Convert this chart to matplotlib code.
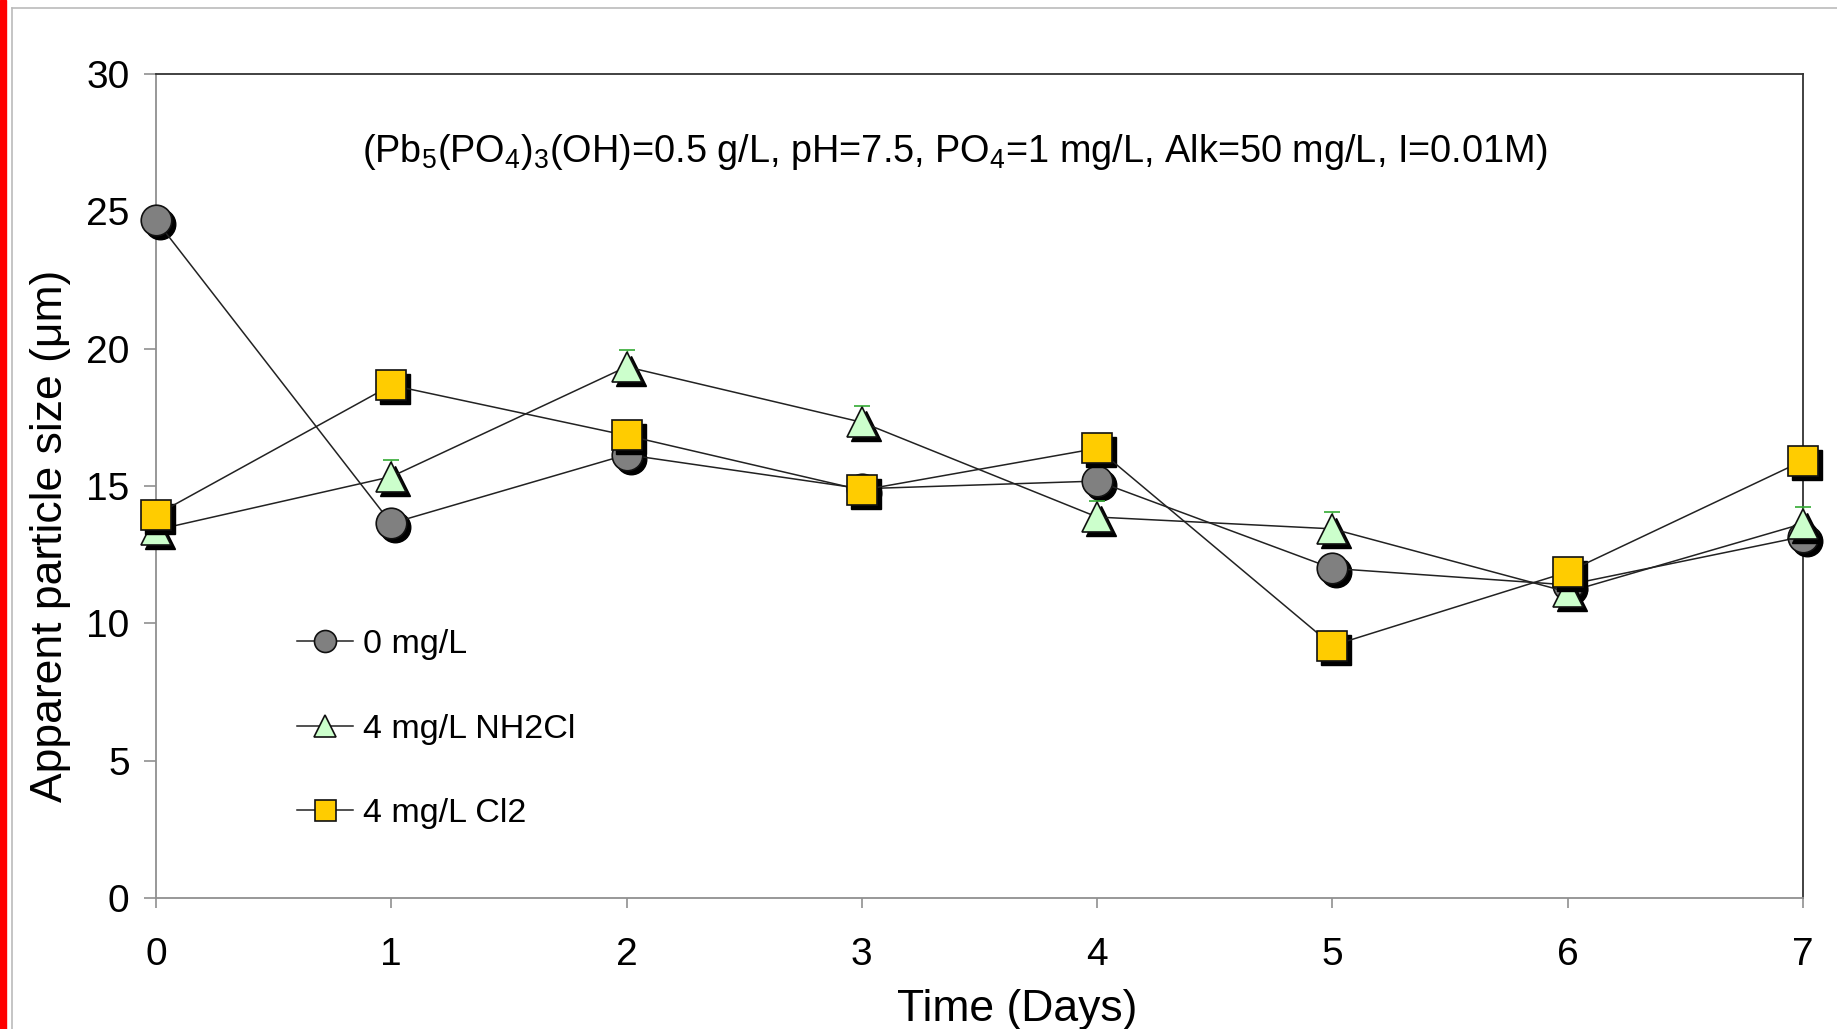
import matplotlib
matplotlib.use("Agg")
import matplotlib.pyplot as plt
from matplotlib.transforms import offset_copy
from matplotlib.patches import Rectangle
from matplotlib.lines import Line2D

plt.rcParams['font.family'] = ['Liberation Sans', 'DejaVu Sans']
plt.rcParams['mathtext.fontset'] = 'custom'
plt.rcParams['mathtext.rm'] = 'Liberation Sans'
plt.rcParams['mathtext.it'] = 'Liberation Sans'
plt.rcParams['mathtext.bf'] = 'Liberation Sans'

# ---- data ----
days = [0, 1, 2, 3, 4, 5, 6, 7]
no_disinfectant = [24.68, 13.64, 16.14, 14.9, 15.18, 12.0, 11.4, 13.16]
nh2cl = [13.4, 15.34, 19.34, 17.32, 13.87, 13.44, 11.14, 13.63]
nh2cl_err = [0.5, 0.6, 0.6, 0.6, 0.6, 0.6, 0.5, 0.6]
cl2 = [13.95, 18.67, 16.84, 14.85, 16.37, 9.19, 11.87, 15.92]
series_labels = ['0 mg/L', '4 mg/L NH2Cl', '4 mg/L Cl2']
x_ticks = [0, 1, 2, 3, 4, 5, 6, 7]
y_ticks = [0, 5, 10, 15, 20, 25, 30]
title_text = (r'(Pb$_5$(PO$_4$)$_3$(OH)=0.5 g/L, pH=7.5, PO$_4$=1 mg/L, '
              r'Alk=50 mg/L, I=0.01M)')

W, H = 1837, 1029
fig = plt.figure(figsize=(W / 100, H / 100), dpi=100)
ax = fig.add_axes([156 / W, 1 - 898 / H, (1803 - 156) / W, (898 - 74) / H])

shadow = offset_copy(ax.transData, fig=fig, x=4, y=-4, units='dots')

styles = [
    (no_disinfectant, 'o', '#808080', 22, series_labels[0]),
    (nh2cl, '^', '#ccffcc', 22, series_labels[1]),
    (cl2, 's', '#ffcc00', 21, series_labels[2]),
]
z = 3
for vals, mk, fc, ms, lab in styles:
    ax.plot(days, vals, ls='none', marker=mk, ms=ms, color='black',
            mec='black', transform=shadow, zorder=z, clip_on=False)
    if mk == '^':
        ax.errorbar(days, vals, yerr=[[0] * len(vals), nh2cl_err], fmt='none',
                    ecolor='#33aa33', elinewidth=1, capsize=6, capthick=1.2,
                    zorder=z + 0.05, clip_on=False)
    ax.plot(days, vals, color='#222222', lw=1.1, marker=mk, ms=ms,
            mfc=fc, mec='#111111', mew=1.2, label=lab, zorder=z + 0.1,
            clip_on=False)
    z += 0.3

ax.set_xlim(0, 7)
ax.set_ylim(0, 30)
ax.set_xticks(x_ticks)
ax.set_yticks(y_ticks)
ax.tick_params(axis='both', labelsize=28, colors='#909090', labelcolor='black',
               width=1.2)
ax.tick_params(axis='y', length=9, pad=10)
ax.tick_params(axis='x', length=7, pad=21)

for s in ['left', 'bottom']:
    ax.spines[s].set_color('#909090')
    ax.spines[s].set_linewidth(1.3)
for s in ['top', 'right']:
    ax.spines[s].set_color('#333333')
    ax.spines[s].set_linewidth(1.3)

ax.set_xlabel('Time (Days)', fontsize=32, labelpad=10)
ax.xaxis.set_label_coords(0.523, -0.135)
ax.xaxis.label.set_va('center')
ax.set_ylabel('Apparent particle size (\u03bcm)', fontsize=32)
ax.yaxis.set_label_coords(-0.064, 0.439)
ax.yaxis.label.set_va('center')

ax.text(0.485, 0.905, title_text, transform=ax.transAxes, ha='center',
        va='center', fontsize=27.3)

leg = ax.legend(loc='upper left', bbox_to_anchor=(0.075, 0.347), frameon=False,
                fontsize=24.5, markerscale=0.72, handlelength=1.65,
                handletextpad=0.3, labelspacing=1.57, borderpad=0)

# figure decorations
fig.patches.append(Rectangle((0, 0), 6 / W, 1, transform=fig.transFigure,
                             color='#ff0000', zorder=10))
fig.lines.append(Line2D([11.5 / W, 11.5 / W], [0, 1 - 8 / H],
                        transform=fig.transFigure, color='#bbbbbb', lw=1.2))
fig.lines.append(Line2D([11.5 / W, 1], [1 - 8 / H, 1 - 8 / H],
                        transform=fig.transFigure, color='#bbbbbb', lw=1.2))

fig.savefig('out.png', dpi=100)
